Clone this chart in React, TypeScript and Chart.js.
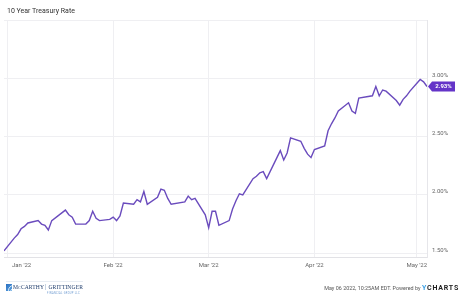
import React, { useEffect, useRef } from "react";
import { Chart, registerables } from "chart.js";

Chart.register(...registerables);

// ---- data ----
const dates = [
  "2021-12-31",
  "2022-01-03", "2022-01-04", "2022-01-05", "2022-01-06", "2022-01-07",
  "2022-01-10", "2022-01-11", "2022-01-12", "2022-01-13", "2022-01-14",
  "2022-01-18", "2022-01-19", "2022-01-20", "2022-01-21",
  "2022-01-24", "2022-01-25", "2022-01-26", "2022-01-27", "2022-01-28",
  "2022-01-31", "2022-02-01", "2022-02-02", "2022-02-03", "2022-02-04",
  "2022-02-07", "2022-02-08", "2022-02-09", "2022-02-10", "2022-02-11",
  "2022-02-14", "2022-02-15", "2022-02-16", "2022-02-17", "2022-02-18",
  "2022-02-22", "2022-02-23", "2022-02-24", "2022-02-25",
  "2022-02-28", "2022-03-01", "2022-03-02", "2022-03-03", "2022-03-04",
  "2022-03-07", "2022-03-08", "2022-03-09", "2022-03-10", "2022-03-11",
  "2022-03-14", "2022-03-15", "2022-03-16", "2022-03-17", "2022-03-18",
  "2022-03-21", "2022-03-22", "2022-03-23", "2022-03-24", "2022-03-25",
  "2022-03-28", "2022-03-29", "2022-03-30", "2022-03-31", "2022-04-01",
  "2022-04-04", "2022-04-05", "2022-04-06", "2022-04-07", "2022-04-08",
  "2022-04-11", "2022-04-12", "2022-04-13", "2022-04-14",
  "2022-04-18", "2022-04-19", "2022-04-20", "2022-04-21", "2022-04-22",
  "2022-04-25", "2022-04-26", "2022-04-27", "2022-04-28", "2022-04-29",
  "2022-05-02", "2022-05-03", "2022-05-04",
];

const rates = [
  1.52,
  1.63, 1.66, 1.71, 1.73, 1.76,
  1.78, 1.75, 1.74, 1.70, 1.78,
  1.87, 1.83, 1.81, 1.75,
  1.75, 1.78, 1.86, 1.80, 1.78,
  1.79, 1.81, 1.78, 1.82, 1.93,
  1.92, 1.96, 1.94, 2.03, 1.92,
  1.98, 2.05, 2.04, 1.97, 1.92,
  1.94, 1.99, 1.96, 1.97,
  1.83, 1.72, 1.86, 1.86, 1.74,
  1.78, 1.88, 1.95, 2.01, 2.00,
  2.14, 2.16, 2.19, 2.20, 2.14,
  2.32, 2.38, 2.30, 2.36, 2.49,
  2.46, 2.40, 2.35, 2.32, 2.39,
  2.42, 2.55, 2.61, 2.66, 2.72,
  2.79, 2.72, 2.70, 2.83,
  2.85, 2.93, 2.85, 2.90, 2.89,
  2.81, 2.77, 2.82, 2.85, 2.89,
  2.99, 2.97, 2.93,
];

const xTickDates = ["2022-01-01", "2022-02-01", "2022-03-01", "2022-04-01", "2022-05-01"];
const xTickLabels = ["Jan '22", "Feb '22", "Mar '22", "Apr '22", "May '22"];
const yTickValues = [1.5, 2.0, 2.5, 3.0, 3.5];
const lastValueLabel = "2.93%";

const seriesName = "10 Year Treasury Rate";
const footerText = "May 06 2022, 10:25AM EDT. Powered by";

const dayOf = (s: string) =>
  (Date.parse(s + "T00:00:00Z") - Date.UTC(2022, 0, 1)) / 86400000;

const LINE_COLOR = "#6a4bbd";
const BADGE_COLOR = "#6434c8";
const FONT = "Roboto, 'Noto Sans', sans-serif";

const xLabelPlugin = {
  id: "xLabels",
  afterDraw(chart: any) {
    const { ctx, chartArea, scales } = chart;
    const xs = scales.x;
    ctx.save();
    ctx.font = `6px ${FONT}`;
    ctx.fillStyle = "#666";
    ctx.textBaseline = "middle";
    ctx.textAlign = "center";
    xTickDates.forEach((d, i) => {
      const px = xs.getPixelForValue(dayOf(d));
      const w = ctx.measureText(xTickLabels[i]).width;
      let cx = px;
      if (cx - w / 2 < chartArea.left + 8) cx = chartArea.left + 8 + w / 2;
      ctx.fillText(xTickLabels[i], cx, chartArea.bottom + 8.5);
    });
    ctx.restore();
  },
};

const badgePlugin = {
  id: "lastBadge",
  afterDraw(chart: any) {
    const { ctx, chartArea, scales } = chart;
    const y = scales.y.getPixelForValue(rates[rates.length - 1]);
    const x0 = chartArea.right + 1;
    const h = 10;
    const w = 23;
    ctx.save();
    ctx.fillStyle = BADGE_COLOR;
    ctx.beginPath();
    ctx.moveTo(x0, y);
    ctx.lineTo(x0 + 4, y - h / 2);
    ctx.lineTo(x0 + 4 + w, y - h / 2);
    ctx.lineTo(x0 + 4 + w, y + h / 2);
    ctx.lineTo(x0 + 4, y + h / 2);
    ctx.closePath();
    ctx.fill();
    ctx.fillStyle = "#fff";
    ctx.font = `bold 6px ${FONT}`;
    ctx.textAlign = "center";
    ctx.textBaseline = "middle";
    ctx.fillText(lastValueLabel, x0 + 4 + w / 2, y + 0.5);
    ctx.restore();
  },
};

function Logo() {
  return (
    <div
      style={{
        position: "absolute",
        left: 6,
        top: 281,
        width: 77,
        height: 14,
        borderTop: "1px solid #e8edf3",
        display: "flex",
        alignItems: "flex-start",
      }}
    >
      <div
        style={{
          marginTop: 2,
          width: 9,
          height: 7,
          background: "linear-gradient(135deg, #2a6fc0, #5aa2e0)",
          position: "relative",
          overflow: "hidden",
        }}
      >
        <div style={{ position: "absolute", left: 2, top: 1, width: 9, height: 9, borderRadius: "50%", border: "1px solid rgba(255,255,255,0.8)" }} />
        <div style={{ position: "absolute", left: 4, top: 3, width: 9, height: 9, borderRadius: "50%", border: "1px solid rgba(255,255,255,0.8)" }} />
      </div>
      <div style={{ marginLeft: 1.5, position: "relative", height: 14 }}>
        <div
          style={{
            fontFamily: "'Liberation Serif', 'DejaVu Serif', serif",
            fontSize: 5.6,
            color: "#24406e",
            whiteSpace: "nowrap",
            marginTop: 2,
            letterSpacing: 0.1,
          }}
        >
          M<span style={{ fontSize: 4 }}>C</span>CARTHY{" "}
          <span style={{ borderLeft: "1px solid #c8d4e2", paddingLeft: 2 }}>GRITTINGER</span>
        </div>
        <div
          style={{
            position: "absolute",
            left: 34,
            top: 9.5,
            fontFamily: FONT,
            fontSize: 2.6,
            color: "#6d9ad0",
            whiteSpace: "nowrap",
            letterSpacing: 0.3,
          }}
        >
          FINANCIAL GROUP LLC
        </div>
      </div>
    </div>
  );
}

export default function App() {
  const ref = useRef<HTMLCanvasElement | null>(null);

  useEffect(() => {
    document.body.style.margin = "0";
    if (!ref.current) return;
    const chart = new Chart(ref.current, {
      type: "line",
      data: {
        datasets: [
          {
            label: seriesName,
            data: dates.map((d, i) => ({ x: dayOf(d), y: rates[i] })),
            borderColor: LINE_COLOR,
            borderWidth: 1.4,
            pointRadius: 0,
            tension: 0,
            fill: false,
          },
        ],
      },
      options: {
        animation: false,
        responsive: false,
        maintainAspectRatio: false,
        layout: { padding: { left: 4, top: 20, right: 0, bottom: 0 } },
        plugins: {
          legend: { display: false },
          tooltip: { enabled: false },
          title: { display: false },
        },
        scales: {
          x: {
            type: "linear",
            min: dayOf(dates[0]),
            max: dayOf(dates[dates.length - 1]),
            afterBuildTicks: (scale: any) => {
              scale.ticks = xTickDates.map((d) => ({ value: dayOf(d) }));
            },
            afterFit: (scale: any) => {
              scale.height = 41;
            },
            ticks: { display: false },
            grid: { color: "#efeff2", drawTicks: false, lineWidth: 1 },
            border: { color: "#e2e2e6" },
          },
          y: {
            type: "linear",
            position: "right",
            min: 1.468,
            max: 3.5,
            afterBuildTicks: (scale: any) => {
              scale.ticks = yTickValues.map((v) => ({ value: v }));
            },
            afterFit: (scale: any) => {
              scale.width = 47;
            },
            ticks: {
              padding: 5,
              labelOffset: -3,
              color: "#666",
              font: { family: FONT, size: 6 },
              callback: (v: any) => (Number(v) >= 3.5 ? "" : Number(v).toFixed(2) + "%"),
            },
            grid: { color: "#efeff2", drawTicks: false, lineWidth: 1 },
            border: { color: "#e6e6ea" },
          },
        },
      },
      plugins: [xLabelPlugin, badgePlugin],
    } as any);
    return () => chart.destroy();
  }, []);

  return (
    <div style={{ position: "fixed", left: 0, top: 0, width: 474, height: 298, background: "#fff", overflow: "hidden" }}>
      <canvas ref={ref} width={474} height={298} style={{ position: "absolute", left: 0, top: 0, width: 474, height: 298 }} />
      <div
        style={{
          position: "absolute",
          left: 7,
          top: 7,
          fontFamily: FONT,
          fontSize: 7,
          color: "#333",
          whiteSpace: "nowrap",
        }}
      >
        {seriesName}
      </div>
      <Logo />
      <div
        style={{
          position: "absolute",
          right: 15,
          top: 284,
          fontFamily: FONT,
          fontSize: 5.4,
          color: "#555",
          whiteSpace: "nowrap",
          display: "flex",
          alignItems: "center",
        }}
      >
        <span>{footerText}</span>
        <span style={{ marginLeft: 1.5, fontSize: 7, fontWeight: 700, letterSpacing: 0.8, color: "#222" }}>
          <span style={{ color: "#3fa2e6" }}>Y</span>CHARTS
        </span>
      </div>
    </div>
  );
}
